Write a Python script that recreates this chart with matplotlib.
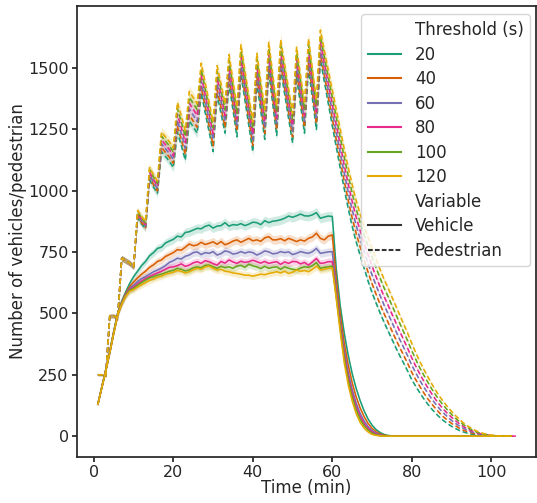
import numpy as np
import matplotlib
matplotlib.use("Agg")
import matplotlib.pyplot as plt
from matplotlib.lines import Line2D

plt.rcParams["font.family"] = "DejaVu Sans"
plt.rcParams["axes.edgecolor"] = ".15"
plt.rcParams["axes.linewidth"] = 1.25
plt.rcParams["text.color"] = ".15"
plt.rcParams["axes.labelcolor"] = ".15"
plt.rcParams["xtick.color"] = ".15"
plt.rcParams["ytick.color"] = ".15"

# thresholds and their colours (Dark2)
thresholds = [20, 40, 60, 80, 100, 120]
colors = ["#1b9e77", "#d95f02", "#7570b3", "#e7298a", "#66a61e", "#e6ab02"]
variables = ["Vehicle", "Pedestrian"]

# mean count per minute (minute 1, 2, 3, ...)
vehicle = {
    20: [130, 200, 272, 345, 428, 503, 550, 588, 622, 650,
         672, 695, 712, 735, 748, 765, 770, 787, 795, 802,
         815, 812, 830, 833, 840, 847, 845, 855, 860, 848,
         856, 858, 870, 856, 862, 860, 866, 858, 864, 872,
         870, 862, 878, 870, 876, 878, 882, 888, 897, 892,
         898, 905, 898, 897, 902, 911, 888, 893, 897, 895,
         680, 530, 420, 330, 255, 195, 145, 103, 70, 45,
         27, 15, 7, 3, 1, 0, 0, 0, 0, 0,
         0, 0, 0, 0, 0, 0, 0, 0, 0, 0,
         0, 0, 0, 0, 0, 0, 0, 0, 0, 0,
         0, 0, 0, 0, 0],
    40: [130, 200, 270, 343, 425, 500, 546, 582, 610, 628,
         645, 660, 672, 688, 698, 712, 718, 732, 740, 748,
         760, 758, 770, 783, 776, 779, 790, 781, 786, 792,
         782, 793, 780, 786, 795, 800, 790, 798, 806, 796,
         800, 794, 808, 813, 800, 800, 805, 796, 806, 800,
         793, 800, 795, 806, 812, 827, 806, 800, 815, 820,
         640, 495, 380, 290, 218, 160, 115, 80, 52, 32,
         18, 9, 4, 1, 0, 0, 0, 0, 0, 0,
         0, 0, 0, 0, 0, 0, 0, 0, 0, 0,
         0, 0, 0, 0, 0, 0, 0, 0, 0, 0,
         0, 0, 0, 0, 0],
    60: [130, 200, 270, 343, 424, 498, 543, 578, 603, 615,
         630, 642, 650, 660, 670, 677, 685, 695, 708, 715,
         725, 722, 733, 738, 748, 751, 740, 748, 745, 752,
         738, 744, 755, 751, 742, 745, 752, 746, 751, 748,
         738, 745, 755, 751, 743, 745, 752, 748, 751, 740,
         745, 752, 748, 745, 752, 765, 745, 748, 751, 752,
         600, 465, 350, 260, 190, 135, 93, 62, 39, 23,
         12, 5, 2, 0, 0, 0, 0, 0, 0, 0,
         0, 0, 0, 0, 0, 0, 0, 0, 0, 0,
         0, 0, 0, 0, 0, 0, 0, 0, 0, 0,
         0, 0, 0, 0, 0],
    80: [130, 199, 269, 342, 423, 497, 541, 575, 598, 607,
         620, 632, 642, 650, 658, 665, 672, 680, 688, 690,
         695, 702, 692, 697, 706, 711, 704, 715, 711, 703,
         697, 712, 705, 718, 710, 704, 713, 708, 711, 717,
         711, 705, 712, 704, 708, 711, 700, 710, 704, 712,
         711, 702, 708, 697, 710, 724, 704, 706, 711, 711,
         580, 448, 333, 243, 173, 120, 80, 51, 31, 17,
         8, 3, 1, 0, 0, 0, 0, 0, 0, 0,
         0, 0, 0, 0, 0, 0, 0, 0, 0, 0,
         0, 0, 0, 0, 0, 0, 0, 0, 0, 0,
         0, 0, 0, 0, 0, 0],
    100: [130, 199, 268, 341, 422, 496, 540, 573, 595, 602,
          615, 626, 636, 645, 650, 656, 660, 666, 672, 676,
          684, 680, 673, 677, 686, 690, 686, 696, 697, 690,
          684, 692, 687, 690, 684, 693, 696, 688, 701, 694,
          690, 683, 692, 684, 688, 690, 680, 690, 684, 680,
          677, 685, 690, 688, 695, 707, 684, 688, 690, 693,
          570, 437, 318, 228, 160, 107, 68, 42, 24, 12,
          5, 2, 0, 0, 0, 0, 0, 0, 0, 0,
          0, 0, 0, 0, 0, 0, 0, 0, 0, 0,
          0, 0, 0, 0, 0, 0, 0, 0, 0, 0,
          0, 0, 0, 0, 0],
    120: [130, 198, 267, 340, 420, 495, 538, 570, 590, 597,
          608, 617, 626, 635, 640, 648, 652, 660, 664, 668,
          675, 672, 665, 670, 678, 684, 680, 690, 693, 684,
          677, 680, 672, 670, 665, 663, 660, 656, 656, 652,
          656, 660, 658, 663, 666, 670, 665, 672, 663, 668,
          677, 672, 675, 670, 680, 693, 677, 680, 684, 685,
          560, 425, 300, 210, 143, 92, 56, 32, 17, 7,
          3, 1, 0, 0, 0, 0, 0, 0, 0, 0,
          0, 0, 0, 0, 0, 0, 0, 0, 0, 0,
          0, 0, 0, 0, 0, 0, 0, 0, 0, 0,
          0, 0, 0, 0, 0],
}

pedestrian = {
    20: [250, 250, 245, 490, 490, 480, 725, 715, 705, 690,
         890, 865, 845, 1045, 1015, 990, 1160, 1140, 1120, 1095,
         1240, 1185, 1125, 1285, 1260, 1235, 1400, 1320, 1240, 1160,
         1390, 1315, 1235, 1435, 1330, 1220, 1475, 1370, 1265, 1160,
         1440, 1325, 1210, 1485, 1355, 1225, 1495, 1395, 1295, 1195,
         1465, 1350, 1235, 1500, 1375, 1250, 1535, 1445, 1355, 1265,
         1178, 1092, 1008, 928, 855, 792, 737, 685, 632, 585,
         543, 503, 465, 430, 395, 360, 327, 296, 264, 230,
         203, 177, 153, 131, 111, 93, 77, 63, 51, 40,
         31, 23, 17, 12, 8, 5, 3, 2, 1, 0,
         0, 0, 0, 0, 0],
    40: [250, 250, 245, 490, 490, 480, 725, 715, 705, 690,
         895, 870, 850, 1055, 1025, 1000, 1177, 1157, 1137, 1112,
         1264, 1209, 1149, 1309, 1284, 1259, 1424, 1344, 1264, 1184,
         1414, 1339, 1259, 1459, 1354, 1244, 1499, 1394, 1289, 1184,
         1464, 1349, 1234, 1509, 1379, 1249, 1519, 1419, 1319, 1219,
         1489, 1374, 1259, 1524, 1399, 1274, 1559, 1470, 1382, 1294,
         1208, 1124, 1040, 961, 889, 826, 771, 719, 668, 621,
         579, 538, 500, 465, 429, 394, 360, 328, 295, 260,
         230, 203, 177, 153, 132, 112, 94, 78, 65, 52,
         42, 32, 24, 18, 13, 9, 6, 4, 2, 1,
         0, 0, 0, 0, 0],
    60: [250, 250, 245, 490, 490, 480, 725, 715, 705, 690,
         902, 877, 857, 1065, 1035, 1010, 1192, 1172, 1152, 1127,
         1288, 1233, 1173, 1333, 1308, 1283, 1448, 1368, 1288, 1208,
         1438, 1363, 1283, 1483, 1378, 1268, 1523, 1418, 1313, 1208,
         1488, 1373, 1258, 1533, 1403, 1273, 1543, 1443, 1343, 1243,
         1513, 1398, 1283, 1548, 1423, 1298, 1583, 1495, 1409, 1323,
         1239, 1155, 1073, 995, 923, 859, 804, 753, 703, 657,
         615, 574, 535, 500, 464, 428, 393, 360, 326, 289,
         258, 228, 201, 176, 152, 131, 111, 94, 79, 64,
         52, 41, 32, 24, 18, 12, 8, 6, 3, 2,
         1, 0, 0, 0, 0],
    80: [250, 250, 245, 490, 490, 480, 725, 715, 705, 690,
         908, 883, 863, 1075, 1045, 1020, 1208, 1188, 1168, 1143,
         1312, 1257, 1197, 1357, 1332, 1307, 1472, 1392, 1312, 1232,
         1462, 1387, 1307, 1507, 1402, 1292, 1547, 1442, 1337, 1232,
         1512, 1397, 1282, 1557, 1427, 1297, 1567, 1467, 1367, 1267,
         1537, 1422, 1307, 1572, 1447, 1322, 1607, 1520, 1436, 1352,
         1269, 1187, 1105, 1028, 957, 893, 838, 787, 739, 693,
         650, 609, 570, 535, 498, 462, 426, 391, 356, 319,
         285, 254, 225, 198, 173, 149, 128, 109, 92, 77,
         63, 50, 39, 30, 22, 16, 11, 7, 5, 2,
         1, 1, 0, 0, 0, 0],
    100: [250, 250, 245, 490, 490, 480, 725, 715, 705, 690,
          914, 889, 869, 1086, 1056, 1031, 1223, 1203, 1183, 1158,
          1336, 1281, 1221, 1381, 1356, 1331, 1496, 1416, 1336, 1256,
          1486, 1411, 1331, 1531, 1426, 1316, 1571, 1466, 1361, 1256,
          1536, 1421, 1306, 1581, 1451, 1321, 1591, 1491, 1391, 1291,
          1561, 1446, 1331, 1596, 1471, 1346, 1631, 1545, 1463, 1381,
          1300, 1218, 1138, 1062, 991, 926, 871, 821, 774, 729,
          686, 645, 605, 570, 533, 496, 459, 423, 387, 348,
          313, 279, 249, 221, 193, 168, 145, 125, 106, 89,
          73, 59, 47, 36, 27, 19, 13, 9, 6, 3,
          2, 1, 0, 0, 0],
    120: [250, 250, 245, 490, 490, 480, 725, 715, 705, 690,
          920, 895, 875, 1095, 1065, 1040, 1240, 1220, 1200, 1175,
          1360, 1305, 1245, 1405, 1380, 1355, 1520, 1440, 1360, 1280,
          1510, 1435, 1355, 1555, 1450, 1340, 1595, 1490, 1385, 1280,
          1560, 1445, 1330, 1605, 1475, 1345, 1615, 1515, 1415, 1315,
          1585, 1470, 1355, 1620, 1495, 1370, 1655, 1570, 1490, 1410,
          1330, 1250, 1170, 1095, 1025, 960, 905, 855, 810, 765,
          722, 680, 640, 605, 567, 530, 492, 455, 418, 378,
          340, 305, 273, 243, 214, 187, 162, 140, 120, 101,
          84, 68, 54, 42, 32, 23, 16, 11, 7, 4,
          2, 1, 0, 0, 0],
}

# relative half-width of the shaded confidence band
band = {"Vehicle": 0.022, "Pedestrian": 0.016}

fig = plt.figure(figsize=(5.37, 5.03), dpi=100)
ax = fig.add_subplot(111)
fig.subplots_adjust(left=0.1434, right=0.998, bottom=0.0915, top=0.988)

for th, c in zip(thresholds, colors):
    for var in variables:
        y = np.array(vehicle[th] if var == "Vehicle" else pedestrian[th], dtype=float)
        t = np.arange(1, len(y) + 1)
        if var == "Vehicle":
            ax.plot(t, y, color=c, lw=1.15)
        else:
            ax.plot(t, y, color=c, lw=1.15, dashes=(3.2, 1.8))
        ax.fill_between(t, y * (1 - band[var]), y * (1 + band[var]),
                        color=c, alpha=0.2, lw=0)

ax.set_ylim(-85, 1753)
ax.set_yticks([0, 250, 500, 750, 1000, 1250, 1500])
ax.tick_params(labelsize=11.5, length=3.5, width=1.25, pad=2.5)
ax.set_xlabel("Time (min)", fontsize=12, labelpad=-1)
ax.set_ylabel("Number of vehicles/pedestrian", fontsize=12, labelpad=1)

handles = [Line2D([], [], linestyle="", label="Threshold (s)")]
for th, c in zip(thresholds, colors):
    handles.append(Line2D([], [], color=c, lw=1.5, label=str(th)))
handles.append(Line2D([], [], linestyle="", label="Variable"))
handles.append(Line2D([], [], color=".2", lw=1.5, label="Vehicle"))
handles.append(Line2D([], [], color=".2", lw=1.5, dashes=(2.3, 1.0), label="Pedestrian"))
ax.legend(handles=handles, loc="upper right", fontsize=12, labelspacing=0.39,
          bbox_to_anchor=(1.006, 1.0))

fig.savefig("out.png", dpi=100)
